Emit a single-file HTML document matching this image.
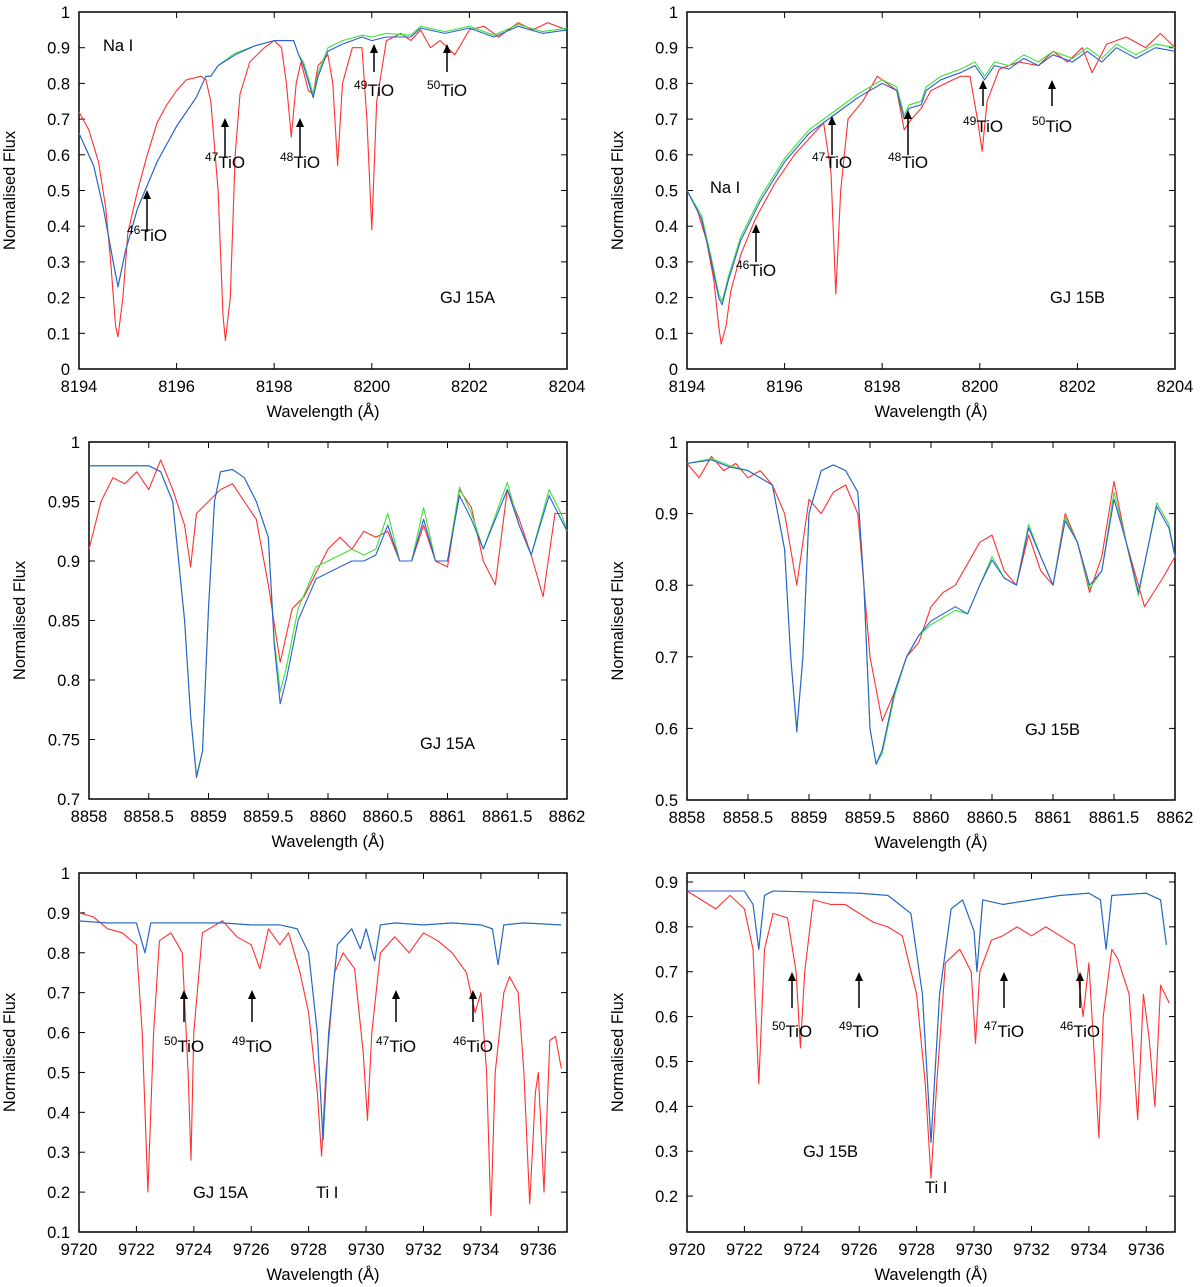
<!DOCTYPE html>
<html><head><meta charset="utf-8"><style>
html,body{margin:0;padding:0;background:#fff;}
svg{display:block;font-family:"Liberation Sans",sans-serif;}
</style></head><body>
<svg id="fig" width="1200" height="1287" viewBox="0 0 1200 1287" xmlns="http://www.w3.org/2000/svg"></svg>
<script>
// ---------- Panel 1: GJ 15A, 8194-8204 ----------
const p1RedW=[8194,8194.2,8194.4,8194.55,8194.65,8194.75,8194.8,8194.9,8195.0,8195.2,8195.4,8195.6,8195.8,8196,8196.2,8196.5,8196.6,8196.7,8196.85,8196.95,8197.0,8197.1,8197.2,8197.3,8197.5,8197.8,8198.0,8198.15,8198.25,8198.35,8198.45,8198.55,8198.7,8198.8,8198.9,8199.1,8199.2,8199.3,8199.4,8199.6,8199.8,8199.9,8200.0,8200.1,8200.3,8200.6,8200.8,8201.0,8201.2,8201.4,8201.7,8202.0,8202.3,8202.6,8203,8203.3,8203.6,8204];
const p1RedF=[0.72,0.67,0.58,0.45,0.3,0.12,0.09,0.2,0.38,0.5,0.6,0.69,0.74,0.78,0.81,0.82,0.81,0.75,0.5,0.15,0.08,0.2,0.6,0.77,0.86,0.9,0.92,0.9,0.8,0.65,0.8,0.86,0.78,0.77,0.85,0.88,0.8,0.57,0.8,0.9,0.9,0.7,0.39,0.75,0.92,0.94,0.92,0.95,0.9,0.92,0.88,0.95,0.96,0.93,0.97,0.95,0.97,0.95];
const p1BlueW=[8194,8194.3,8194.5,8194.7,8194.8,8194.95,8195.2,8195.6,8196,8196.4,8196.6,8196.7,8196.85,8197.2,8197.6,8198,8198.4,8198.5,8198.6,8198.8,8198.9,8199.1,8199.4,8199.8,8200,8200.3,8200.8,8201,8201.5,8202,8202.5,8203,8203.5,8204];
const p1BlueF=[0.66,0.57,0.45,0.3,0.23,0.33,0.45,0.58,0.68,0.76,0.82,0.82,0.85,0.88,0.905,0.92,0.92,0.88,0.85,0.76,0.82,0.89,0.91,0.93,0.92,0.93,0.93,0.955,0.94,0.955,0.93,0.96,0.94,0.95];
const p1GreenF=[0.66,0.57,0.45,0.3,0.23,0.33,0.45,0.58,0.68,0.76,0.82,0.82,0.85,0.885,0.905,0.92,0.92,0.88,0.86,0.77,0.83,0.9,0.92,0.935,0.93,0.94,0.935,0.96,0.945,0.96,0.935,0.965,0.945,0.955];
// ---------- Panel 2: GJ 15B, 8194-8204 ----------
const p2RedW=[8194,8194.2,8194.4,8194.55,8194.65,8194.7,8194.8,8194.9,8195.1,8195.4,8195.8,8196.2,8196.6,8196.8,8196.95,8197.05,8197.15,8197.3,8197.6,8197.9,8198.1,8198.3,8198.45,8198.6,8198.8,8199.0,8199.3,8199.6,8199.8,8199.95,8200.05,8200.15,8200.4,8200.8,8201.2,8201.5,8201.8,8202.1,8202.3,8202.6,8203,8203.4,8203.7,8204];
const p2RedF=[0.5,0.45,0.36,0.25,0.12,0.07,0.12,0.22,0.32,0.42,0.52,0.6,0.66,0.69,0.55,0.21,0.5,0.7,0.75,0.82,0.8,0.78,0.67,0.7,0.73,0.78,0.8,0.82,0.82,0.7,0.61,0.75,0.84,0.86,0.85,0.89,0.86,0.9,0.83,0.91,0.93,0.9,0.94,0.9];
const p2BlueW=[8194,8194.3,8194.5,8194.65,8194.72,8194.85,8195.1,8195.5,8196,8196.5,8197,8197.5,8198,8198.3,8198.45,8198.55,8198.8,8198.9,8199.2,8199.6,8199.9,8200.1,8200.3,8200.6,8200.9,8201.2,8201.5,8201.9,8202.2,8202.5,8202.8,8203.2,8203.6,8204];
const p2BlueF=[0.5,0.42,0.3,0.2,0.18,0.25,0.36,0.47,0.58,0.66,0.71,0.76,0.8,0.78,0.7,0.73,0.74,0.78,0.81,0.83,0.85,0.81,0.85,0.84,0.87,0.85,0.88,0.86,0.89,0.86,0.9,0.87,0.9,0.89];
const p2GreenF=[0.5,0.43,0.31,0.21,0.19,0.26,0.37,0.48,0.59,0.67,0.72,0.77,0.81,0.79,0.71,0.74,0.75,0.79,0.82,0.84,0.86,0.82,0.86,0.85,0.88,0.86,0.89,0.87,0.9,0.87,0.91,0.88,0.91,0.9];
// ---------- Panel 3: GJ 15A, 8858-8862 ----------
const p3W=[8858,8858.5,8858.6,8858.7,8858.8,8858.85,8858.9,8858.95,8859.0,8859.05,8859.1,8859.2,8859.3,8859.4,8859.5,8859.55,8859.6,8859.65,8859.75,8859.9,8860,8860.1,8860.2,8860.3,8860.4,8860.5,8860.6,8860.7,8860.8,8860.9,8861.0,8861.1,8861.2,8861.3,8861.5,8861.6,8861.7,8861.85,8861.95,8862];
const p3BlueF=[0.98,0.98,0.975,0.95,0.85,0.77,0.718,0.74,0.86,0.95,0.975,0.977,0.97,0.95,0.92,0.83,0.78,0.8,0.85,0.885,0.89,0.895,0.9,0.9,0.905,0.93,0.9,0.9,0.935,0.9,0.9,0.955,0.935,0.91,0.96,0.93,0.905,0.955,0.935,0.925];
const p3GreenF=[0.98,0.98,0.975,0.95,0.85,0.77,0.72,0.74,0.86,0.95,0.975,0.977,0.97,0.95,0.92,0.835,0.79,0.81,0.86,0.895,0.9,0.905,0.91,0.905,0.91,0.94,0.9,0.9,0.945,0.9,0.9,0.962,0.94,0.91,0.966,0.93,0.905,0.96,0.94,0.925];
const p3RedW=[8858,8858.1,8858.2,8858.3,8858.4,8858.5,8858.6,8858.7,8858.8,8858.85,8858.9,8859.0,8859.1,8859.2,8859.3,8859.4,8859.5,8859.6,8859.7,8859.8,8859.9,8860.0,8860.1,8860.2,8860.3,8860.4,8860.5,8860.6,8860.7,8860.8,8860.9,8861,8861.1,8861.2,8861.3,8861.4,8861.5,8861.6,8861.7,8861.8,8861.9,8862];
const p3RedF=[0.91,0.95,0.97,0.965,0.975,0.96,0.985,0.96,0.93,0.895,0.94,0.95,0.96,0.965,0.95,0.935,0.88,0.815,0.86,0.87,0.89,0.91,0.92,0.91,0.925,0.92,0.925,0.9,0.9,0.93,0.9,0.895,0.96,0.945,0.9,0.88,0.96,0.935,0.905,0.87,0.94,0.94];
// ---------- Panel 4: GJ 15B, 8858-8862 ----------
const p4W=[8858,8858.2,8858.35,8858.5,8858.7,8858.8,8858.85,8858.9,8858.95,8859.0,8859.1,8859.2,8859.3,8859.4,8859.45,8859.5,8859.55,8859.6,8859.7,8859.8,8859.9,8860,8860.1,8860.2,8860.3,8860.4,8860.5,8860.6,8860.7,8860.8,8860.9,8861,8861.1,8861.2,8861.3,8861.4,8861.5,8861.6,8861.7,8861.85,8861.95,8862];
const p4BlueF=[0.97,0.975,0.965,0.96,0.94,0.85,0.7,0.595,0.7,0.9,0.96,0.968,0.96,0.93,0.8,0.6,0.55,0.57,0.65,0.7,0.73,0.75,0.76,0.77,0.76,0.8,0.835,0.81,0.8,0.88,0.84,0.8,0.89,0.86,0.8,0.82,0.92,0.86,0.79,0.91,0.88,0.84];
const p4GreenF=[0.97,0.977,0.967,0.96,0.94,0.85,0.7,0.6,0.7,0.9,0.96,0.968,0.96,0.93,0.8,0.6,0.55,0.565,0.645,0.7,0.73,0.745,0.755,0.765,0.76,0.8,0.84,0.81,0.8,0.885,0.84,0.8,0.895,0.86,0.795,0.82,0.93,0.86,0.785,0.915,0.885,0.84];
const p4RedW=[8858,8858.1,8858.2,8858.3,8858.4,8858.5,8858.6,8858.7,8858.8,8858.9,8859.0,8859.1,8859.2,8859.3,8859.4,8859.5,8859.6,8859.7,8859.8,8859.9,8860,8860.1,8860.2,8860.3,8860.4,8860.5,8860.6,8860.7,8860.8,8860.9,8861,8861.1,8861.2,8861.3,8861.4,8861.5,8861.6,8861.75,8861.9,8862];
const p4RedF=[0.97,0.95,0.98,0.96,0.97,0.95,0.96,0.94,0.9,0.8,0.92,0.9,0.93,0.94,0.9,0.7,0.61,0.65,0.7,0.72,0.77,0.79,0.8,0.83,0.86,0.87,0.82,0.8,0.87,0.82,0.8,0.9,0.86,0.79,0.84,0.945,0.86,0.77,0.81,0.84];
// ---------- Panel 5: GJ 15A, 9720-9737 ----------
const p5BlueW=[9720,9721,9722,9722.3,9722.5,9724,9725,9726,9727,9727.6,9728,9728.3,9728.5,9728.7,9729,9729.5,9729.8,9730,9730.3,9730.5,9731,9732,9733,9734,9734.4,9734.6,9734.8,9735.5,9736.8];
const p5BlueF=[0.88,0.875,0.875,0.8,0.875,0.875,0.875,0.87,0.87,0.86,0.8,0.6,0.33,0.6,0.82,0.86,0.81,0.86,0.78,0.87,0.875,0.87,0.875,0.87,0.86,0.77,0.87,0.875,0.87];
const p5RedW=[9720,9720.5,9721,9721.5,9722,9722.2,9722.4,9722.6,9722.8,9723.2,9723.6,9723.8,9723.9,9724,9724.3,9725,9725.5,9726,9726.3,9726.6,9727,9727.3,9727.7,9728,9728.3,9728.45,9728.6,9728.9,9729.2,9729.6,9729.9,9730.05,9730.2,9730.5,9731,9731.5,9732,9732.5,9733,9733.5,9733.8,9734,9734.2,9734.35,9734.5,9734.8,9735,9735.3,9735.5,9735.7,9735.9,9736,9736.2,9736.4,9736.6,9736.8];
const p5RedF=[0.9,0.89,0.86,0.85,0.82,0.6,0.2,0.6,0.83,0.85,0.8,0.5,0.28,0.6,0.85,0.88,0.84,0.82,0.76,0.86,0.82,0.85,0.75,0.65,0.45,0.29,0.5,0.75,0.8,0.76,0.55,0.38,0.6,0.8,0.84,0.8,0.85,0.83,0.8,0.75,0.65,0.7,0.5,0.14,0.5,0.7,0.74,0.7,0.5,0.17,0.45,0.5,0.2,0.58,0.59,0.51];
// ---------- Panel 6: GJ 15B, 9720-9737 ----------
const p6BlueW=[9720,9722,9722.3,9722.5,9722.7,9723,9726,9727,9727.8,9728.2,9728.5,9728.8,9729.2,9729.6,9730,9730.1,9730.3,9731,9732,9733,9734,9734.4,9734.6,9734.8,9736,9736.5,9736.7];
const p6BlueF=[0.88,0.88,0.85,0.75,0.87,0.88,0.875,0.87,0.83,0.65,0.32,0.65,0.84,0.86,0.79,0.7,0.86,0.85,0.86,0.87,0.875,0.86,0.75,0.87,0.875,0.86,0.76];
const p6RedW=[9720,9720.5,9721,9721.5,9722,9722.3,9722.5,9722.7,9723,9723.5,9723.8,9723.95,9724.1,9724.4,9725,9725.5,9726,9726.5,9727,9727.5,9728,9728.3,9728.5,9728.7,9729,9729.5,9729.9,9730.05,9730.2,9730.6,9731,9731.5,9732,9732.5,9733,9733.5,9733.8,9734,9734.2,9734.35,9734.5,9734.8,9735,9735.4,9735.7,9735.9,9736.1,9736.3,9736.5,9736.8];
const p6RedF=[0.88,0.86,0.84,0.87,0.84,0.75,0.45,0.75,0.83,0.82,0.7,0.53,0.7,0.86,0.85,0.85,0.83,0.81,0.8,0.78,0.65,0.45,0.24,0.45,0.72,0.75,0.7,0.54,0.7,0.77,0.78,0.8,0.78,0.8,0.78,0.76,0.6,0.72,0.5,0.33,0.6,0.75,0.73,0.65,0.37,0.65,0.55,0.4,0.67,0.63];

const svg=document.getElementById('fig');
const NS='http://www.w3.org/2000/svg';
const FS=16.5;
function mk(tag,attrs,parent){const e=document.createElementNS(NS,tag);for(const k in attrs)e.setAttribute(k,attrs[k]);(parent||svg).appendChild(e);return e;}

function panel(name,L,R,T,B,x0,x1,y0,y1,xt,yt,xdec,ydec){
  const g=mk('g',{});
  
  
  const sx=v=>L+(v-x0)/(x1-x0)*(R-L);
  const sy=v=>B-(v-y0)/(y1-y0)*(B-T);
  const ax=mk('g',{},g);
  
  
  mk('rect',{x:L,y:T,width:R-L,height:B-T,fill:'none',stroke:'#000','stroke-width':1.5},ax);
  for(let v=xt[0];v<=xt[1]+1e-9;v+=xt[2]){
    const x=sx(v);
    mk('line',{x1:x,y1:B,x2:x,y2:B-6,stroke:'#000','stroke-width':1},ax);
    mk('line',{x1:x,y1:T,x2:x,y2:T+6,stroke:'#000','stroke-width':1},ax);
    const t=mk('text',{x:x,y:B+23,'text-anchor':'middle','font-size':FS},ax);
    
    
    t.textContent=(+v.toFixed(xdec)).toString();
  }
  for(let v=yt[0];v<=yt[1]+1e-9;v+=yt[2]){
    const y=sy(v);
    mk('line',{x1:L,y1:y,x2:L+6,y2:y,stroke:'#000','stroke-width':1},ax);
    mk('line',{x1:R,y1:y,x2:R-6,y2:y,stroke:'#000','stroke-width':1},ax);
    const t=mk('text',{x:L-9,y:y+6,'text-anchor':'end','font-size':FS},ax);
    
    
    t.textContent=(+v.toFixed(ydec)).toString();
  }
  const yl=mk('text',{x:0,y:0,'text-anchor':'middle','font-size':FS,transform:`translate(${L-64},${(T+B)/2}) rotate(-90)`},g);
  
  
  yl.textContent='Normalised Flux';
  const xl=mk('text',{x:(L+R)/2,y:B+48,'text-anchor':'middle','font-size':FS},g);
  
  
  xl.textContent='Wavelength (Å)';
  return {g,sx,sy,L,R,T,B};
}
function series(P,W,F,color,name){
  let d='';
  for(let i=0;i<W.length;i++){
    d+=(i?'L':'M')+P.sx(W[i]).toFixed(1)+','+P.sy(F[i]).toFixed(1);
  }
  const p=mk('path',{d:d,fill:'none',stroke:color,'stroke-width':1.1,'stroke-linejoin':'round'},P.g);
  
  
}
function label(P,x,y,txt,name,size){
  const t=mk('text',{x:x,y:y,'font-size':size||16},P.g);
  
  
  t.textContent=txt;
}
function arrow(P,x,y1,y2,iso,lx,ly){
  const a=mk('g',{},P.g);
  
  
  mk('line',{x1:x,y1:y1,x2:x,y2:y2+6,stroke:'#000','stroke-width':1.5},a);
  mk('path',{d:`M${x-4},${y2+9}L${x},${y2}L${x+4},${y2+9}Z`,fill:'#000'},a);
  const t=mk('text',{x:lx,y:ly,'font-size':17},a);
  
  
  const s=mk('tspan',{'font-size':12,dy:-7},t);s.textContent=iso;
  const s2=mk('tspan',{dy:7},t);s2.textContent='TiO';
}
const RED='#ff3030',BLUE='#2c5fd8',GREEN='#3fe03f';

// Panel 1
let P=panel('panel-gj15a-8194',79,567,12,369,8194,8204,0,1,[8194,8204,2],[0,1,0.1],0,1);
series(P,p1RedW,p1RedF,RED,'observed-spectrum');
series(P,p1BlueW,p1GreenF,GREEN,'model-green');
series(P,p1BlueW,p1BlueF,BLUE,'model-blue');
label(P,103,51,'Na I','na-i-label',FS);
label(P,440,303,'GJ 15A','star-label',FS);
arrow(P,147,232,190,'46',127,241);
arrow(P,225,158,118,'47',205,168);
arrow(P,300,158,118,'48',280,168);
arrow(P,374,72,44,'49',354,96);
arrow(P,447,72,44,'50',427,96);

// Panel 2
P=panel('panel-gj15b-8194',687,1175,12,369,8194,8204,0,1,[8194,8204,2],[0,1,0.1],0,1);
series(P,p2RedW,p2RedF,RED,'observed-spectrum');
series(P,p2BlueW,p2GreenF,GREEN,'model-green');
series(P,p2BlueW,p2BlueF,BLUE,'model-blue');
label(P,710,193,'Na I','na-i-label',FS);
label(P,1050,303,'GJ 15B','star-label',FS);
arrow(P,756,262,224,'46',736,276);
arrow(P,832,155,116,'47',812,168);
arrow(P,908,155,110,'48',888,168);
arrow(P,983,106,80,'49',963,132);
arrow(P,1052,106,80,'50',1032,132);

// Panel 3
P=panel('panel-gj15a-8858',89,567,442,799,8858,8862,0.7,1,[8858,8862,0.5],[0.7,1,0.05],1,2);
series(P,p3RedW,p3RedF,RED,'observed-spectrum');
series(P,p3W,p3GreenF,GREEN,'model-green');
series(P,p3W,p3BlueF,BLUE,'model-blue');
label(P,420,749,'GJ 15A','star-label',FS);

// Panel 4
P=panel('panel-gj15b-8858',687,1175,442,800,8858,8862,0.5,1,[8858,8862,0.5],[0.5,1,0.1],1,1);
series(P,p4RedW,p4RedF,RED,'observed-spectrum');
series(P,p4W,p4GreenF,GREEN,'model-green');
series(P,p4W,p4BlueF,BLUE,'model-blue');
label(P,1025,735,'GJ 15B','star-label',FS);

// Panel 5
P=panel('panel-gj15a-9720',79,567,873,1232,9720,9737,0.1,1,[9720,9736,2],[0.1,1,0.1],0,1);
series(P,p5RedW,p5RedF,RED,'observed-spectrum');
series(P,p5BlueW,p5BlueF,GREEN,'model-green');
series(P,p5BlueW,p5BlueF,BLUE,'model-blue');
label(P,193,1198,'GJ 15A','star-label',FS);
label(P,316,1198,'Ti I','ti-i-label',FS);
arrow(P,184,1022,990,'50',164,1052);
arrow(P,252,1022,990,'49',232,1052);
arrow(P,396,1022,990,'47',376,1052);
arrow(P,473,1022,990,'46',453,1052);

// Panel 6
P=panel('panel-gj15b-9720',687,1175,873,1232,9720,9737,0.12,0.92,[9720,9736,2],[0.2,0.9,0.1],0,1);
series(P,p6RedW,p6RedF,RED,'observed-spectrum');
series(P,p6BlueW,p6BlueF,GREEN,'model-green');
series(P,p6BlueW,p6BlueF,BLUE,'model-blue');
label(P,803,1157,'GJ 15B','star-label',FS);
label(P,925,1193,'Ti I','ti-i-label',FS);
arrow(P,792,1008,972,'50',772,1037);
arrow(P,859,1008,972,'49',839,1037);
arrow(P,1004,1008,972,'47',984,1037);
arrow(P,1080,1008,972,'46',1060,1037);
</script>
</body></html>
